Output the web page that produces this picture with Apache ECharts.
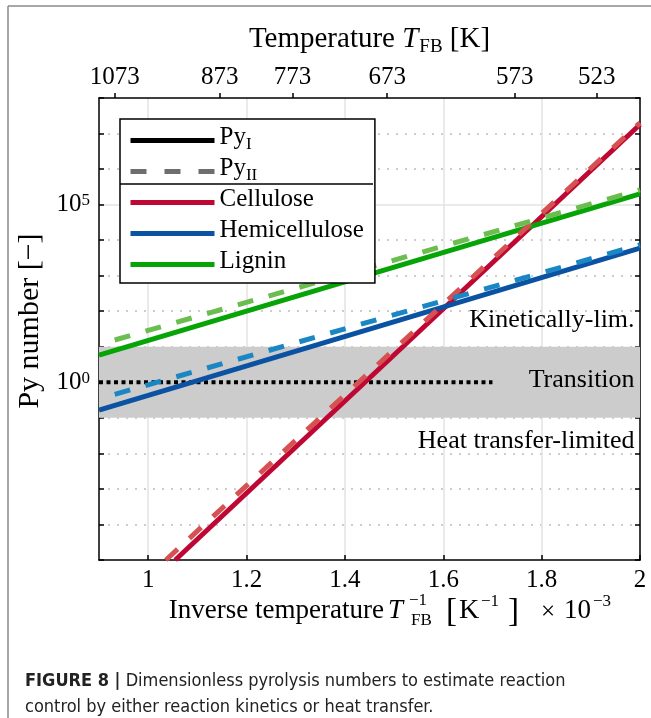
<!DOCTYPE html>
<html>
<head>
<meta charset="utf-8">
<script src="https://cdn.jsdelivr.net/npm/echarts@6/dist/echarts.min.js"></script>
<style>
  html, body { margin: 0; padding: 0; background: #fff; }
  #chart { width: 651px; height: 718px; }
</style>
</head>
<body>
<div id="chart"></div>
<script>
// x = inverse temperature (x1e-3 1/K), y = Py number (log scale, drawn as log10)
const xTicks = [1, 1.2, 1.4, 1.6, 1.8, 2];
const topTempTicks = [1073, 873, 773, 673, 573, 523];
const yLabelExponents = [0, 5];
const yMinorExponents = [-4, -3, -2, -1, 1, 2, 3, 4, 6, 7];

// straight lines in this plot, endpoints: [1/T, Py]
const cellulosePyI  = [[1.055, 1e-5], [2.0, 1.8e7]];
const cellulosePyII = [[1.036, 1e-5], [2.0, 2.0e7]];
const hemiPyI       = [[0.9, 0.166], [2.0, 6.0e3]];
const hemiPyII      = [[0.932, 0.46], [2.0, 7.4e3]];
const ligninPyI     = [[0.9, 5.8], [2.0, 2.0e5]];
const ligninPyII    = [[0.932, 15.5], [2.0, 2.6e5]];
const transitionLine = [[0.9, 1], [1.7, 1]];
const transitionBand = [0.1, 10];
const regionLabels = ['Kinetically-lim.', 'Transition', 'Heat transfer-limited'];

const serif = "'Liberation Serif', 'Times New Roman', serif";
const sans = "'Liberation Sans Narrow', 'DejaVu Sans Condensed', 'Liberation Sans', sans-serif";

const toLog = pts => pts.map(p => [p[0], Math.log10(p[1])]);

function lineSeries(name, pts, color, dashed, z) {
    return {
        name: name, type: 'line', data: toLog(pts), z: z,
        symbol: 'none', showSymbol: false, silent: true, animation: false,
        itemStyle: { color: color },
        lineStyle: { color: color, width: 5, type: dashed ? [16, 16] : 'solid', cap: 'butt' }
    };
}

const chart = echarts.init(document.getElementById('chart'), null, { renderer: 'canvas' });

// bottom title built from pieces so sub/superscripts can stack
function txt(text, x, y, size, extra) {
    return {
        type: 'text', x: x, y: y, silent: true,
        style: Object.assign({ text: text, fontFamily: serif, fontSize: size, fill: '#000',
            verticalAlign: 'middle', align: 'left' }, extra || {})
    };
}

const option = {
    backgroundColor: '#fff',
    animation: false,
    grid: { left: 99, right: 11, top: 98, height: 462, containLabel: false },
    xAxis: [
        {
            type: 'value', position: 'bottom', min: 0.9, max: 2,
            axisLine: { show: true, onZero: false, lineStyle: { color: '#000', width: 1.5 } },
            axisTick: { show: true, inside: true, length: 5, customValues: xTicks,
                lineStyle: { color: '#000', width: 1.5 } },
            axisLabel: { customValues: xTicks, margin: 8, fontFamily: serif, fontSize: 25, color: '#000',
                formatter: v => String(+v.toFixed(1)) },
            splitLine: { show: true, lineStyle: { color: '#e3e3e3', width: 1.5 } }
        },
        {
            type: 'value', position: 'top', min: 0.9, max: 2,
            axisLine: { show: true, onZero: false, lineStyle: { color: '#000', width: 1.5 } },
            axisTick: { show: true, inside: false, length: 5,
                customValues: topTempTicks.map(t => 1000 / t),
                lineStyle: { color: '#000', width: 1.5 } },
            axisLabel: { customValues: topTempTicks.map(t => 1000 / t), margin: 8,
                fontFamily: serif, fontSize: 25, color: '#000',
                formatter: v => String(Math.round(1000 / v)) },
            splitLine: { show: false },
            name: '{n|Temperature }{i|T}{s|FB}{n| [K]}',
            nameLocation: 'middle', nameGap: 41,
            nameTextStyle: {
                fontFamily: serif, fontSize: 29, color: '#000',
                rich: {
                    n: { fontFamily: serif, fontSize: 29, verticalAlign: 'bottom', padding: [0, 0, 3, 0] },
                    i: { fontFamily: serif, fontSize: 29, fontStyle: 'italic', verticalAlign: 'bottom', padding: [0, 1, 3, 0] },
                    s: { fontFamily: serif, fontSize: 19, verticalAlign: 'bottom' }
                }
            }
        }
    ],
    yAxis: [
        {
            type: 'value', position: 'left', min: -5, max: 8, interval: 1,
            axisLine: { show: true, lineStyle: { color: '#000', width: 1.5 } },
            axisTick: { show: true, inside: true, length: 5, lineStyle: { color: '#000', width: 1.5 } },
            axisLabel: {
                customValues: yLabelExponents, margin: 9, color: '#000',
                formatter: v => '{b|10}{s|' + v + '}',
                rich: {
                    b: { fontFamily: serif, fontSize: 25, color: '#000' },
                    s: { fontFamily: serif, fontSize: 17, color: '#000', verticalAlign: 'top' }
                }
            },
            splitLine: { show: false },
            name: 'Py number [\u2212]', nameLocation: 'middle', nameGap: 48,
            nameTextStyle: { fontFamily: serif, fontSize: 30, color: '#000', padding: [0, 0, 0, 16] }
        },
        {
            type: 'value', position: 'right', min: -5, max: 8, interval: 1,
            axisLine: { show: true, lineStyle: { color: '#000', width: 1.5 } },
            axisTick: { show: true, inside: true, length: 5, lineStyle: { color: '#000', width: 1.5 } },
            axisLabel: { show: false },
            splitLine: { show: false }
        },
        {
            type: 'value', position: 'left', min: -5, max: 8,
            axisLine: { show: false },
            axisTick: { show: false, customValues: yMinorExponents },
            axisLabel: { show: false },
            splitLine: { show: true, lineStyle: { color: '#bdbdbd', width: 1.5, type: [2, 7] } }
        },
        {
            type: 'value', position: 'left', min: -5, max: 8,
            axisLine: { show: false },
            axisTick: { show: false, customValues: yLabelExponents },
            axisLabel: { show: false },
            splitLine: { show: true, lineStyle: { color: '#e3e3e3', width: 1.5 } }
        }
    ],
    legend: {
        orient: 'vertical', left: 120, top: 119,
        padding: [6, 11, 6, 8], itemGap: 3, itemWidth: 84, itemHeight: 14,
        borderColor: '#000', borderWidth: 1.5, borderRadius: 0, backgroundColor: '#fff',
        selectedMode: false, z: 10,
        itemStyle: { color: 'rgba(0,0,0,0)', borderWidth: 0, opacity: 0 },
        lineStyle: { width: 5, cap: 'butt' },
        data: ['Py_I', 'Py_II', 'Cellulose', 'Hemicellulose', 'Lignin'],
        formatter: name => {
            if (name === 'Py_I') return '{n|Py}{s|I}';
            if (name === 'Py_II') return '{n|Py}{s|II}';
            return '{n|' + name + '}';
        },
        textStyle: {
            fontFamily: serif, fontSize: 25, color: '#000', lineHeight: 25,
            rich: {
                n: { fontFamily: serif, fontSize: 25, lineHeight: 25, verticalAlign: 'bottom', padding: [0, 0, 3, 0] },
                s: { fontFamily: serif, fontSize: 17, lineHeight: 17, verticalAlign: 'bottom' }
            }
        }
    },
    graphic: [
        { type: 'line', silent: true, shape: { x1: 8, y1: 6, x2: 651, y2: 6 }, style: { stroke: '#8a8a8a', lineWidth: 1.5 } },
        { type: 'line', silent: true, shape: { x1: 8, y1: 6, x2: 8, y2: 718 }, style: { stroke: '#8a8a8a', lineWidth: 1.5 } },
        { type: 'line', silent: true, z: 100, shape: { x1: 120, y1: 184, x2: 373, y2: 184 }, style: { stroke: '#000', lineWidth: 1.5 } },
        txt('Inverse temperature', 384, 611, 27, { align: 'right' }),
        txt('T', 388, 611, 27, { fontStyle: 'italic' }),
        txt('\u22121', 409, 601, 17),
        txt('FB', 411, 621, 17),
        txt('[', 446, 612, 33),
        txt('K', 459, 611, 28),
        txt('\u22121', 481, 602, 17),
        txt(']', 508, 612, 33),
        txt('\u00d7', 541, 612, 25),
        txt('10', 564, 611, 27),
        txt('\u22123', 593, 602, 17),
        {
            type: 'text', x: 25, y: 668, silent: true,
            style: {
                text: '{b|FIGURE 8 |} Dimensionless pyrolysis numbers to estimate reaction\ncontrol by either reaction kinetics or heat transfer.',
                fontFamily: sans, fontSize: 18, lineHeight: 26, fill: '#222',
                rich: { b: { fontFamily: sans, fontSize: 18, fontWeight: 'bold', fill: '#222' } }
            }
        }
    ],
    series: [
        {
            name: 'band', type: 'line', data: [], z: 1, silent: true,
            markArea: {
                silent: true, itemStyle: { color: '#cccccc', opacity: 1 },
                data: [[{ yAxis: Math.log10(transitionBand[0]) }, { yAxis: Math.log10(transitionBand[1]) }]]
            }
        },
        {
            name: 'transition', type: 'line', data: toLog(transitionLine), z: 2,
            symbol: 'none', silent: true,
            lineStyle: { color: '#000', width: 4, type: [4, 3.5] },
            markPoint: {
                silent: true, symbol: 'rect', symbolSize: 1, itemStyle: { color: 'rgba(0,0,0,0)' },
                label: { show: true, position: 'left', distance: 0, fontFamily: serif, fontSize: 26,
                    color: '#000', formatter: p => p.name },
                data: [
                    { name: regionLabels[0], coord: [1.99, 1.75] },
                    { name: regionLabels[1], coord: [1.99, 0.05] },
                    { name: regionLabels[2], coord: [1.99, -1.65] }
                ]
            }
        },
        // legend-only entries for the line styles
        { name: 'Py_I', type: 'line', data: [], symbol: 'none', itemStyle: { color: '#000' },
          lineStyle: { color: '#000', width: 5 } },
        { name: 'Py_II', type: 'line', data: [], symbol: 'none', itemStyle: { color: '#6e6e6e' },
          lineStyle: { color: '#6e6e6e', width: 5, type: [16, 18] } },
        lineSeries('Cellulose', cellulosePyI, '#bf0734', false, 3),
        lineSeries('Hemicellulose', hemiPyI, '#0b52a3', false, 3),
        lineSeries('Lignin', ligninPyI, '#06a406', false, 3),
        lineSeries('Cellulose II', cellulosePyII, '#d65252', true, 4),
        lineSeries('Hemicellulose II', hemiPyII, '#1a86c4', true, 4),
        lineSeries('Lignin II', ligninPyII, '#6cbd4f', true, 4)
    ]
};

chart.setOption(option);
</script>
</body>
</html>
